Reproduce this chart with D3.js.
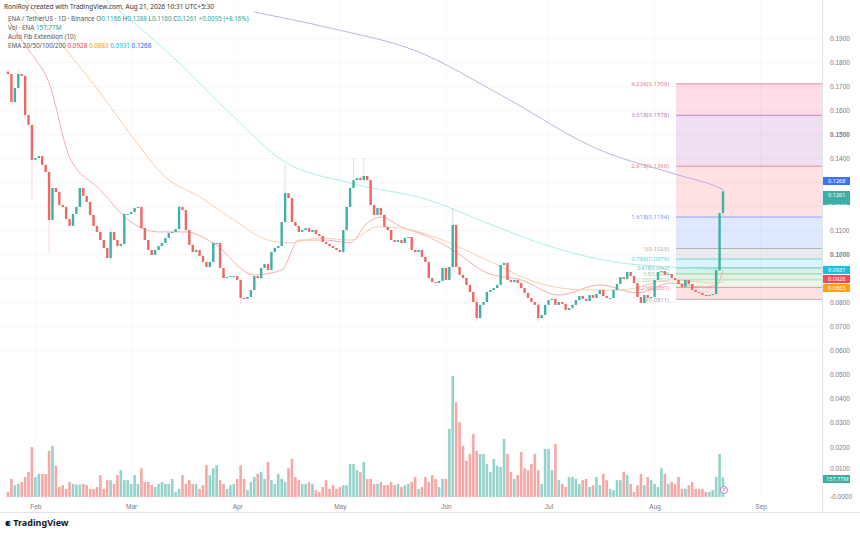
<!DOCTYPE html>
<html>
<head>
<meta charset="utf-8">
<script src="https://cdn.jsdelivr.net/npm/d3@7"></script>
<style>
  body { margin: 0; background: #fff; }
  svg { display: block; font-family: "Noto Sans", Roboto, sans-serif; }
  .axis text { fill: #787b86; }
</style>
</head>
<body>
<svg id="chart" width="860" height="537"></svg>
<script>
// daily closes, ENA/USDT, Jan 24 -> Aug 21 2026
var closes = [
  .1750, .1633, .1692, .1750, .1742, .1579, .1538, .1392, .1400, .1408,
  .1371, .1342, .1142, .1275, .1258, .1204, .1196, .1146, .1117, .1167,
  .1196, .1275, .1242, .1217, .1163, .1117, .1092, .1058, .1025, .0983,
  .1092, .1058, .1033, .1042, .1167, .1167, .1175, .1192, .1196, .1108,
  .1058, .1017, .0996, .1017, .1033, .1046, .1067, .1088, .1092, .1104,
  .1196, .1183, .1100, .1038, .1008, .1017, .0992, .0967, .0946, .0967,
  .1046, .1046, .0942, .0900, .0904, .0908, .0908, .0892, .0817, .0813,
  .0821, .0850, .0908, .0900, .0942, .0958, .0933, .1008, .1025, .1033,
  .1133, .1254, .1233, .1133, .1117, .1092, .1100, .1108, .1092, .1100,
  .1083, .1075, .1050, .1042, .1033, .1025, .1017, .1008, .1100, .1196,
  .1275, .1308, .1317, .1308, .1325, .1308, .1204, .1163, .1192, .1163,
  .1113, .1100, .1058, .1050, .1058, .1046, .1067, .1071, .1017, .1008,
  .1017, .0988, .0967, .0900, .0883, .0879, .0888, .0942, .0892, .0946,
  .1121, .0946, .0913, .0900, .0871, .0842, .0800, .0733, .0788, .0800,
  .0842, .0850, .0858, .0871, .0954, .0963, .0892, .0883, .0892, .0879,
  .0858, .0838, .0817, .0800, .0788, .0733, .0746, .0788, .0808, .0813,
  .0788, .0800, .0792, .0767, .0775, .0788, .0808, .0825, .0813, .0804,
  .0829, .0817, .0833, .0850, .0825, .0817, .0817, .0850, .0875, .0904,
  .0896, .0925, .0908, .0879, .0821, .0796, .0829, .0817, .0821, .0892,
  .0925, .0929, .0913, .0917, .0900, .0892, .0875, .0863, .0892, .0875,
  .0850, .0842, .0838, .0829, .0825, .0829, .0833, .0933, .1171, .1261
];
var firstOpen = 0.1760;

// notable wicks: [day index, high, low]
var wicks = [
  [0, .1767, .1740], [3, .1767, .1680], [7, .1440, .1225], [12, .1290, .1004],
  [30, .1110, .0960], [50, .1215, .1090], [68, .0850, .0792], [81, .1371, .1130],
  [101, .1400, .1290], [104, .1400, .1300], [130, .1192, .0930],
  [137, .0820, .0717], [155, .0800, .0717], [209, .1268, .1160]
];

// volume in millions
var volumes = [
  40, 145, 95, 105, 120, 160, 200, 400, 160, 185,
  185, 185, 370, 410, 250, 80, 95, 65, 120, 105,
  100, 100, 105, 95, 65, 65, 80, 175, 65, 135,
  135, 105, 175, 215, 135, 135, 105, 175, 105, 230,
  120, 120, 95, 80, 105, 120, 105, 105, 145, 40,
  65, 175, 105, 135, 105, 105, 65, 95, 255, 175,
  230, 255, 135, 105, 65, 95, 105, 145, 255, 145,
  55, 120, 160, 185, 200, 145, 280, 135, 105, 185,
  145, 120, 230, 305, 160, 135, 105, 105, 120, 105,
  55, 40, 80, 135, 65, 95, 65, 80, 95, 95,
  265, 265, 215, 200, 280, 145, 145, 105, 105, 120,
  95, 95, 120, 95, 105, 80, 95, 105, 120, 160,
  65, 80, 160, 120, 175, 145, 80, 145, 145, 545,
  970, 760, 600, 410, 290, 345, 505, 370, 345, 345,
  265, 200, 305, 250, 240, 465, 345, 200, 145, 175,
  360, 230, 215, 265, 345, 215, 105, 385, 385, 215,
  425, 135, 105, 80, 160, 160, 145, 105, 135, 145,
  80, 95, 160, 95, 185, 135, 65, 55, 135, 135,
  200, 175, 105, 40, 95, 185, 95, 160, 135, 105,
  80, 230, 185, 105, 120, 105, 160, 65, 65, 95,
  120, 65, 65, 65, 40, 40, 55, 160, 345, 158
];

// EMAs: [day index, value]
var ema20 = [[0, .1975], [6, .1850], [12, .1713], [18, .1404], [27, .1267], [36, .1133], [44, .1092],
  [52, .1092], [60, .1046], [72, .0913], [80, .0933], [85, .1058], [93, .1058], [100, .1046],
  [105, .1129], [109, .1154], [115, .1113], [123, .1071], [130, .1017], [140, .0921], [150, .0892],
  [161, .0829], [173, .0871], [184, .0838], [194, .0879], [203, .0863], [207, .0871], [209, .0928]];
var ema50 = [[5, .2058], [17, .1850], [27, .1671], [37, .1475], [46, .1321], [56, .1238], [66, .1142],
  [76, .1058], [82, .1046], [91, .1067], [100, .1058], [108, .1113], [115, .1108], [123, .1079],
  [140, .0975], [155, .0879], [169, .0850], [179, .0850], [194, .0892], [207, .0879], [209, .0883]];
var ema100 = [[25, .2100], [46, .1850], [66, .1571], [80, .1392], [100, .1296], [123, .1225],
  [140, .1129], [159, .1029], [179, .0963], [194, .0946], [207, .0933], [209, .0931]];
var ema200 = [[72, .2008], [94, .1942], [120, .1842], [144, .1663], [173, .1433], [196, .1329],
  [208, .1275], [209, .1268]];

// auto fib extension
var fibLevels = [0, 0.236, 0.382, 0.5, 0.618, 0.786, 1, 1.618, 2.618, 3.618, 4.236];
var fibPrices = [.0811, .0861, .0892, .0917, .0942, .0979, .1023, .1154, .1366, .1578, .1709];
var fibColors = ['#787b86', '#f23645', '#81c784', '#4caf50', '#089981', '#00bcd4', '#787b86',
  '#2962ff', '#f23645', '#9c27b0', '#e91e63'];

// 0.1300, 0.1200 and 0.0900 sit under the price tags
var priceTicks = [.06, .07, .08, .09, .10, .11, .12, .13, .14, .15, .16, .17, .18, .19];
var shownTicks = [.06, .07, .08, .10, .11, .14, .15, .16, .17, .18, .19];
var volTicks = [0, 0.01, 0.02, 0.03, 0.04, 0.05];
var monthTicks = ['2026-02-01', '2026-03-01', '2026-04-01', '2026-05-01', '2026-06-01',
  '2026-07-01', '2026-08-01', '2026-09-01'];
var monthNames = ['Feb', 'Mar', 'Apr', 'May', 'Jun', 'Jul', 'Aug', 'Sep'];

var startDay = new Date(Date.UTC(2026, 0, 24));
var dayMs = 86400000;
var dateOf = i => new Date(startDay.getTime() + i * dayMs);

var svg = d3.select('#chart');
var plotRight = 822;

var x = d3.scaleUtc()
  .domain([startDay, dateOf(209)])
  .range([8, 723]);
var y = d3.scaleLinear().domain([0.08, 0.18]).range([302, 62]);
var yVol = d3.scaleLinear().domain([0, 970]).range([497, 376]);
var yVolAxis = d3.scaleLinear().domain([0, 0.05]).range([496, 374]);

var candles = closes.map((c, i) => {
  var o = i === 0 ? firstOpen : closes[i - 1];
  return { i: i, o: o, c: c, h: Math.max(o, c), l: Math.min(o, c), v: volumes[i] };
});
wicks.forEach(w => {
  var d = candles[w[0]];
  d.h = Math.max(d.h, w[1]);
  d.l = Math.min(d.l, w[2]);
});

var green = '#3fb0a4', red = '#f06663';

// grid
var grid = svg.append('g');
grid.selectAll('line.h').data(priceTicks).enter().append('line')
  .attr('x1', 0).attr('x2', plotRight)
  .attr('y1', d => Math.round(y(d)) + 0.5).attr('y2', d => Math.round(y(d)) + 0.5)
  .attr('stroke', '#f7f7f7');
grid.selectAll('line.v').data(monthTicks).enter().append('line')
  .attr('x1', d => x(new Date(d))).attr('x2', d => x(new Date(d)))
  .attr('y1', 0).attr('y2', 497)
  .attr('stroke', '#f9f9f9');

// fib bands
var fibG = svg.append('g');
var fibX0 = 676;
for (var k = 1; k < fibPrices.length; k++) {
  fibG.append('rect')
    .attr('x', fibX0).attr('width', plotRight - fibX0)
    .attr('y', y(fibPrices[k])).attr('height', y(fibPrices[k - 1]) - y(fibPrices[k]))
    .attr('fill', fibColors[k]).attr('fill-opacity', 0.15);
}
fibG.selectAll('line').data(fibPrices).enter().append('line')
  .attr('x1', fibX0).attr('x2', plotRight)
  .attr('y1', d => y(d)).attr('y2', d => y(d))
  .attr('stroke', (d, i) => fibColors[i]).attr('stroke-opacity', 0.5);
fibG.selectAll('text').data(fibPrices).enter().append('text')
  .attr('x', 669).attr('y', d => y(d) + 2.2)
  .attr('text-anchor', 'end').attr('font-size', d => d > 0.085 && d < 0.095 ? 5 : 6)
  .attr('fill', (d, i) => fibColors[i]).attr('fill-opacity', 0.7)
  .text((d, i) => fibLevels[i] + '(' + d.toFixed(4) + ')');

// EMA lines
var emaLine = d3.line().x(d => x(dateOf(d[0]))).y(d => y(d[1])).curve(d3.curveMonotoneX);
svg.append('clipPath').attr('id', 'pc').append('rect')
  .attr('x', 0).attr('y', 0).attr('width', plotRight).attr('height', 360);
var emaG = svg.append('g').attr('clip-path', 'url(#pc)');
[[ema20, '#f4a6a2'], [ema50, '#f7c9a0'], [ema100, '#9fece6'], [ema200, '#b4aadf']].forEach(e => {
  emaG.append('path').attr('d', emaLine(e[0]))
    .attr('fill', 'none').attr('stroke', e[1]).attr('stroke-width', 0.9);
});

// volume
svg.append('g').selectAll('rect').data(candles).enter().append('rect')
  .attr('x', d => x(dateOf(d.i)) - 1.3).attr('width', 2.6)
  .attr('y', d => yVol(d.v)).attr('height', d => 497 - yVol(d.v))
  .attr('fill', d => d.c >= d.o ? '#94d3cb' : '#f6a8a6');

// candles
var cg = svg.append('g').selectAll('g').data(candles).enter().append('g');
cg.append('line')
  .attr('x1', d => x(dateOf(d.i))).attr('x2', d => x(dateOf(d.i)))
  .attr('y1', d => y(d.h)).attr('y2', d => y(d.l))
  .attr('stroke', d => d.c >= d.o ? green : red).attr('stroke-width', 0.6).attr('stroke-opacity', 0.45);
cg.append('rect')
  .attr('x', d => x(dateOf(d.i)) - 1.2).attr('width', 2.4)
  .attr('y', d => y(Math.max(d.o, d.c)))
  .attr('height', d => Math.max(1, Math.abs(y(d.o) - y(d.c))))
  .attr('fill', d => d.c >= d.o ? green : red);

// marker on last volume bar
svg.append('circle').attr('cx', 724).attr('cy', 490).attr('r', 3.5)
  .attr('fill', '#fff').attr('stroke', '#b05bd0').attr('stroke-width', 0.8);
svg.append('text').attr('x', 724).attr('y', 492).attr('text-anchor', 'middle')
  .attr('font-size', 4.5).attr('fill', '#b05bd0').text('P');

// axes
svg.append('line').attr('x1', plotRight + 0.5).attr('x2', plotRight + 0.5)
  .attr('y1', 0).attr('y2', 512).attr('stroke', '#e0e3eb');
svg.append('line').attr('x1', 0).attr('x2', 860)
  .attr('y1', 512.5).attr('y2', 512.5).attr('stroke', '#e0e3eb');

var yAxis = svg.append('g').attr('class', 'axis').attr('transform', 'translate(' + plotRight + ',0)')
  .call(d3.axisRight(y).tickValues(shownTicks.filter(d => d >= 0.08))
    .tickFormat(d3.format('.4f')).tickSize(0).tickPadding(8));
yAxis.select('.domain').remove();
yAxis.selectAll('text').attr('font-size', 6.5)
  .attr('font-weight', d => Math.abs(d - 0.1) < 1e-6 || Math.abs(d - 0.15) < 1e-6 ? 'bold' : null);
var y2 = d3.scaleLinear().domain([0.06, 0.08]).range([350, 302]);
var yAxisLow = svg.append('g').attr('class', 'axis').attr('transform', 'translate(' + plotRight + ',0)')
  .call(d3.axisRight(y2).tickValues(shownTicks.filter(d => d < 0.08)).tickFormat(d3.format('.4f')).tickSize(0).tickPadding(8));
yAxisLow.select('.domain').remove();
yAxisLow.selectAll('text').attr('font-size', 6.5);

var vAxis = svg.append('g').attr('class', 'axis').attr('transform', 'translate(' + plotRight + ',0)')
  .call(d3.axisRight(yVolAxis).tickValues(volTicks)
    .tickFormat(d => d === 0 ? '-0.0000' : d3.format('.4f')(d)).tickSize(0).tickPadding(8));
vAxis.select('.domain').remove();
vAxis.selectAll('text').attr('font-size', 6.5).attr('dy', d => d === 0.01 ? '-0.1em' : '0.32em');

// month labels
var xAxis = svg.append('g').attr('class', 'axis').attr('transform', 'translate(0,498)')
  .call(d3.axisBottom(x).tickValues(monthTicks.map(d => new Date(d)))
    .tickFormat((d, i) => monthNames[i]).tickSize(0).tickPadding(6));
xAxis.select('.domain').remove();
xAxis.selectAll('text').attr('font-size', 6.5).attr('fill', '#787b86');

// price tags on right axis: [label, colour, centre y, height]
var tags = [
  ['0.1268', '#2962ff', 181, 8],
  ['0.1261', '#26a69a', 195, 14],
  ['0.0931', '#00bcd4', 270, 8],
  ['0.0928', '#f23645', 279, 8],
  ['0.0883', '#ff9800', 288, 8]
];
tags.forEach(t => {
  svg.append('rect').attr('x', plotRight + 1).attr('y', t[2] - 4).attr('width', 27).attr('height', t[3])
    .attr('fill', t[1]).attr('fill-opacity', 0.9);
  svg.append('text').attr('x', plotRight + 6).attr('y', t[2] + 2).attr('font-size', 5.6)
    .attr('fill', '#fff').text(t[0]);
});
svg.append('text').attr('x', plotRight + 5).attr('y', 207.5).attr('font-size', 5)
  .attr('fill', '#fff').text('15:28:33');
svg.append('rect').attr('x', plotRight + 1).attr('y', 475).attr('width', 27).attr('height', 8)
  .attr('fill', '#26a69a').attr('fill-opacity', 0.9);
svg.append('text').attr('x', plotRight + 4).attr('y', 481.2).attr('font-size', 5.6)
  .attr('fill', '#fff').text('157.77M');

// header + legend
var leg = svg.append('g').attr('font-size', 6.3);
leg.append('text').attr('x', 4).attr('y', 9).attr('fill', '#333').attr('font-size', 6.5)
  .text('RoniRoy created with TradingView.com, Aug 21, 2026 10:31 UTC+5:30');
var l1 = leg.append('text').attr('x', 8).attr('y', 21).attr('fill', '#555');
l1.append('tspan').text('ENA / TetherUS · 1D · Binance  ');
[['O', '0.1166'], ['H', '0.1288'], ['L', '0.1160'], ['C', '0.1261']].forEach(p => {
  l1.append('tspan').attr('fill', '#555').text(' ' + p[0]);
  l1.append('tspan').attr('fill', '#26a69a').text(p[1]);
});
l1.append('tspan').attr('fill', '#26a69a').text('  +0.0095 (+8.16%)');
var l2 = leg.append('text').attr('x', 8).attr('y', 30).attr('fill', '#555');
l2.append('tspan').text('Vol · ENA  ');
l2.append('tspan').attr('fill', '#26a69a').text('157.77M');
leg.append('text').attr('x', 8).attr('y', 39).attr('fill', '#555').text('Auto Fib Extension (10)');
var l4 = leg.append('text').attr('x', 8).attr('y', 48).attr('fill', '#555');
l4.append('tspan').text('EMA 20/50/100/200  ');
[['0.0928', '#f23645'], ['0.0883', '#ff9800'], ['0.0931', '#00bcd4'], ['0.1268', '#2962ff']].forEach(p => {
  l4.append('tspan').attr('fill', p[1]).text(' ' + p[0]);
});

// footer logo
svg.append('text').attr('x', 5).attr('y', 526).attr('font-size', 9).attr('font-weight', 'bold')
  .attr('fill', '#131722').text('⁌ TradingView');
</script>
</body>
</html>
